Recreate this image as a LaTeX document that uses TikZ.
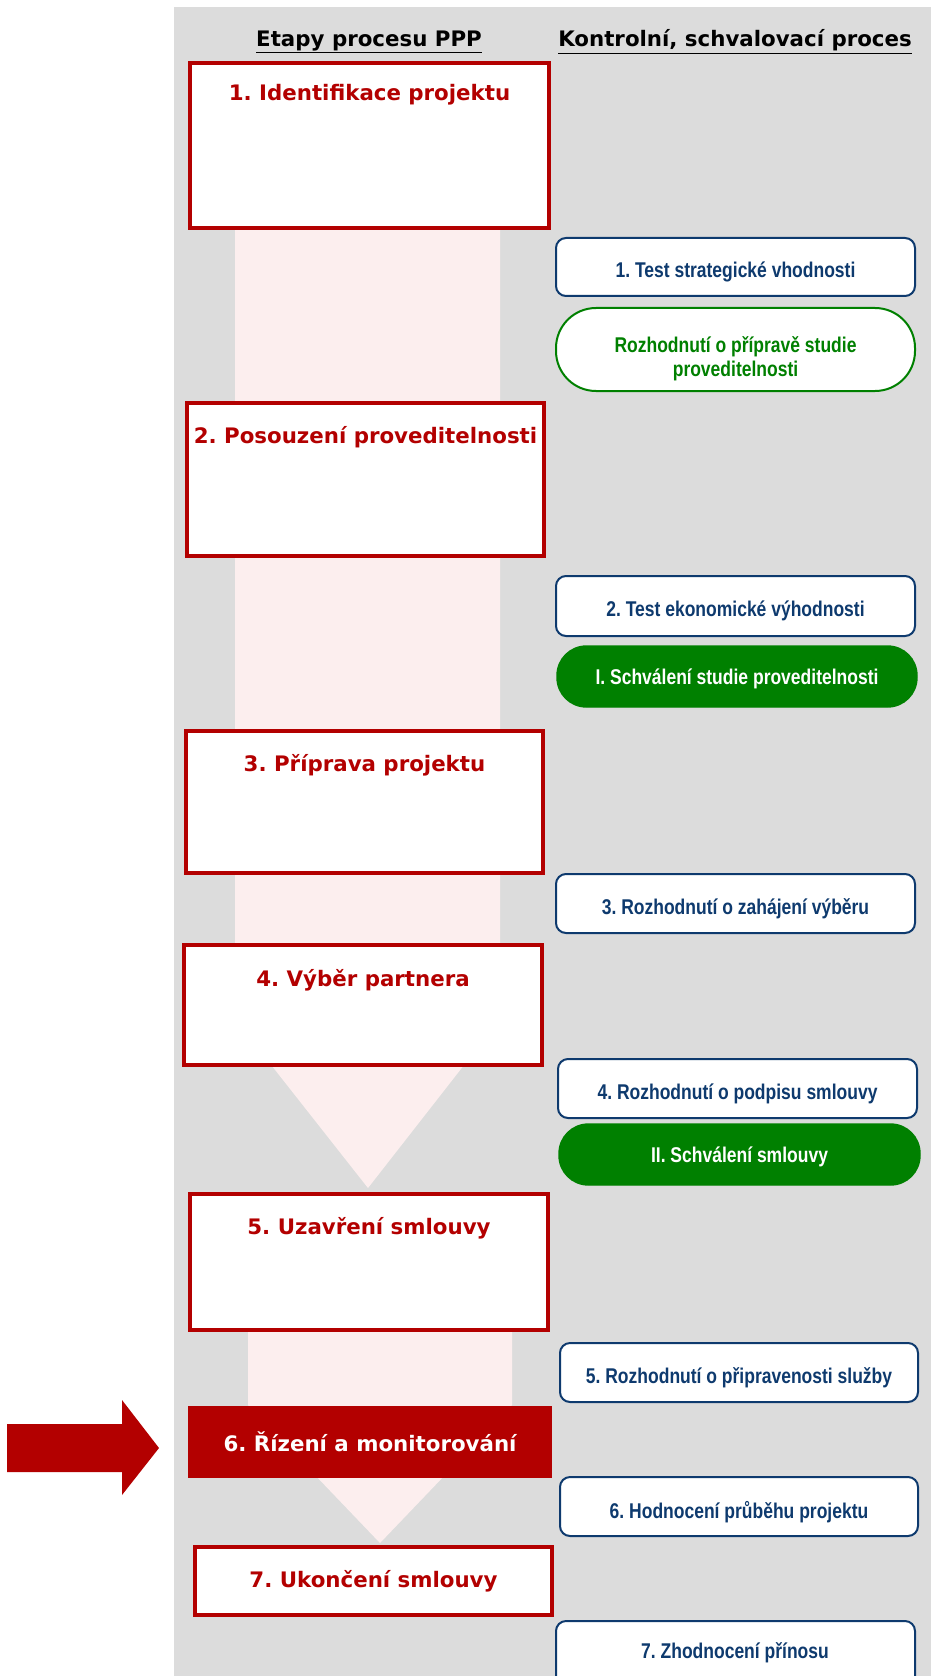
\documentclass[tikz,border=0pt]{standalone}
\usepackage{fontspec}
\setmainfont{DejaVu Sans}
\newfontfamily\narrowfont[FakeStretch=0.82]{Liberation Sans}
\usetikzlibrary{fit}
\definecolor{bggrey}{HTML}{DCDCDC}
\definecolor{pinkband}{HTML}{FCEEEE}
\definecolor{pppred}{HTML}{B30000}
\definecolor{navy}{HTML}{0E3A6E}
\definecolor{okgreen}{HTML}{008000}
\begin{document}
\frenchspacing
\begin{tikzpicture}[x=0.75pt,y=-0.75pt,
  head/.style={font=\bfseries\fontsize{16}{19}\selectfont, text=black},
  redbox/.style={draw=pppred, line width=3pt, fill=white, inner sep=0pt},
  redtitle/.style={font=\bfseries\fontsize{16}{19}\selectfont, text=pppred},
  activebox/.style={fill=pppred, draw=none, inner sep=0pt},
  activetitle/.style={font=\bfseries\fontsize{16}{19}\selectfont, text=white},
  bluebox/.style={draw=navy, line width=1.5pt, fill=white, rounded corners=7.5pt, inner sep=0pt},
  bluetext/.style={font=\narrowfont\bfseries\fontsize{16}{19}\selectfont, text=navy, yshift=-4pt},
  greenline/.style={draw=okgreen, line width=1.5pt, fill=white, rounded corners=30pt, inner sep=0pt},
  greentext/.style={align=center, font=\narrowfont\bfseries\fontsize{16}{18}\selectfont, text=okgreen, yshift=-7pt},
  greenfill/.style={draw=okgreen, line width=1pt, fill=okgreen, rounded corners=22pt, inner sep=0pt},
  whitetext/.style={font=\narrowfont\bfseries\fontsize{16}{19}\selectfont, text=white, yshift=-2pt},
  band/.style={fill=pinkband, draw=none}
]
\useasboundingbox (0,0) rectangle (931,1676);
\clip (0,0) rectangle (931,1676);

% grey panel
\fill[bggrey] (174,7) rectangle (931,1676);

% column headings
\node[head] (h1) at (369,42) {\underline{Etapy procesu PPP}};
\node[head] (h2) at (735,42) {\underline{Kontrolní, schvalovací proces}};

% pale downward arrows behind the stages
\fill[band] (235,63) -- (500,63) -- (500,1019) -- (368,1188) -- (235,1019) -- cycle;
\fill[band] (248,1330) -- (512,1330) -- (512,1405) -- (380,1543) -- (248,1405) -- cycle;

% stages
\node[redbox, fit={(190,63) (549,228)}] (b1) {};
\node[redtitle] (t1) at (369.5,95) {1. Identifikace projektu};
\node[redbox, fit={(187,403) (544,556)}] (b2) {};
\node[redtitle] (t2) at (365.5,437) {2. Posouzení proveditelnosti};
\node[redbox, fit={(186,731) (543,873)}] (b3) {};
\node[redtitle] (t3) at (364.5,765) {3. Příprava projektu};
\node[redbox, fit={(184,945) (542,1065)}] (b4) {};
\node[redtitle] (t4) at (363,980) {4. Výběr partnera};
\node[redbox, fit={(190,1194) (548,1330)}] (b5) {};
\node[redtitle] (t5) at (369,1228) {5. Uzavření smlouvy};
\node[activebox, fit={(188,1406) (552,1478)}] (b6) {};
\node[activetitle] (t6) at (b6.center) {6. Řízení a monitorování};
\node[redbox, fit={(195,1547) (552,1615)}] (b7) {};
\node[redtitle] (t7) at (373.5,1581) {7. Ukončení smlouvy};

% current stage marker
\fill[pppred] (7,1424) -- (122,1424) -- (122,1400) -- (159,1448) -- (122,1495)
  -- (122,1472) -- (7,1472) -- cycle;

% control and approval steps
\node[bluebox, fit={(556,238) (915,296)}] (c1) {};
\node[bluetext] at (c1.center) {1. Test strategické vhodnosti};
\node[greenline, fit={(556,308) (915,391)}] (g1) {};
\node[greentext] at (g1.center) {Rozhodnutí o přípravě studie\\proveditelnosti};
\node[bluebox, fit={(556,576) (915,636)}] (c2) {};
\node[bluetext] at (c2.center) {2. Test ekonomické výhodnosti};
\node[greenfill, fit={(557,646) (917,707)}] (g2) {};
\node[whitetext] at (g2.center) {I. Schválení studie proveditelnosti};
\node[bluebox, fit={(556,874) (915,933)}] (c3) {};
\node[bluetext] at (c3.center) {3. Rozhodnutí o zahájení výběru};
\node[bluebox, fit={(558,1059) (917,1118)}] (c4) {};
\node[bluetext] at (c4.center) {4. Rozhodnutí o podpisu smlouvy};
\node[greenfill, fit={(559,1124) (920,1185)}] (g3) {};
\node[whitetext] at (g3.center) {II. Schválení smlouvy};
\node[bluebox, fit={(560,1343) (918,1402)}] (c5) {};
\node[bluetext] at (c5.center) {5. Rozhodnutí o připravenosti služby};
\node[bluebox, fit={(560,1477) (918,1536)}] (c6) {};
\node[bluetext] at (c6.center) {6. Hodnocení průběhu projektu};
\node[bluebox, fit={(556,1621) (915,1700)}] (c7) {};
\node[bluetext, yshift=4pt] (c7t) at (735,1653) {7. Zhodnocení přínosu};
\end{tikzpicture}
\end{document}
